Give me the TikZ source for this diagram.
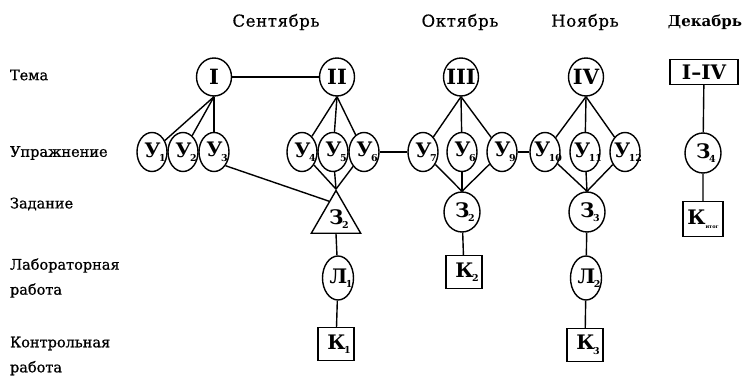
\documentclass[tikz,border=0pt]{standalone}
\usepackage{fontspec}
\setmainfont{DejaVu Serif}
\newfontfamily\captionfont[FakeBold=0.9]{DejaVu Serif}
\newfontfamily\monthfont[FakeBold=0.6,LetterSpace=4]{DejaVu Serif}
\usetikzlibrary{shapes.geometric,calc}
% node letter with its index set low on the right
\newcommand\lbl[2]{\makebox[0pt][c]{\kern6pt #1\kern-1.5pt\raisebox{-4.5pt}{\fontsize{9.5}{9.5}\selectfont #2}}}
% node text that does not widen its shape
\newcommand\cc[1]{\makebox[0pt][c]{#1}}
\begin{document}
\begin{tikzpicture}[x=1pt,y=-1pt,line width=1.4pt,
  month/.style={font=\monthfont\fontsize{16.5}{16.5}\selectfont},
  rowlabel/.style={anchor=west,align=left,font=\captionfont\fontsize{14.5}{25}\selectfont},
  nodefont/.style={font=\bfseries\fontsize{20}{20}\selectfont},
  theme/.style={draw,ellipse,inner sep=0pt,minimum width=35pt,minimum height=38pt,
    font=\bfseries\fontsize{21}{21}\selectfont},
  ex/.style={draw,ellipse,inner sep=0pt,minimum width=30pt,minimum height=39pt,nodefont},
  task/.style={draw,ellipse,inner sep=0pt,minimum width=36pt,minimum height=40pt,nodefont},
  lab/.style={draw,ellipse,inner sep=0pt,minimum width=31pt,minimum height=44pt,nodefont},
  test/.style={draw,rectangle,inner sep=0pt,minimum width=36pt,minimum height=33pt,nodefont},
  tri/.style={draw,regular polygon,regular polygon sides=3,inner sep=0pt,minimum size=57pt,nodefont}]
\useasboundingbox (0,0) rectangle (750,379);

% months
\node[month] (sep) at (276,22) {Сентябрь};
\node[month] (oct) at (460,22) {Октябрь};
\node[month] (nov) at (585,22) {Ноябрь};
\node[font=\bfseries\fontsize{15}{15}\selectfont] (dec) at (705,22) {Декабрь};

% row captions
\node[rowlabel] (rTheme) at (6,75) {Тема};
\node[rowlabel] (rEx) at (6,153) {Упражнение};
\node[rowlabel] (rTask) at (6,204) {Задание};
\node[rowlabel] (rLab) at (6,278) {Лабораторная\\работа};
\node[rowlabel] (rTest) at (6,356) {Контрольная\\работа};

% themes
\node[theme] (t1) at (214,77) {\cc{I}};
\node[theme] (t2) at (337,77) {\cc{II}};
\node[theme] (t3) at (461,77) {\cc{III}};
\node[theme] (t4) at (586,77) {\cc{IV}};
\node[draw,rectangle,inner sep=0pt,minimum width=68pt,minimum height=25pt,
  font=\bfseries\fontsize{20}{20}\selectfont] (t14) at (704,72) {\cc{I–IV}};

% exercises
\node[ex] (u1) at (152,152) {\lbl{У}{1}};
\node[ex] (u2) at (183,152) {\lbl{У}{2}};
\node[ex] (u3) at (214,152) {\lbl{У}{3}};
\node[ex] (u4) at (302,152) {\lbl{У}{4}};
\node[ex] (u5) at (333,152) {\lbl{У}{5}};
\node[ex] (u6) at (364,152) {\lbl{У}{6}};
\node[ex] (u7) at (423,152) {\lbl{У}{7}};
\node[ex] (u8) at (462,152) {\lbl{У}{6}};
\node[ex] (u9) at (502,152) {\lbl{У}{9}};
\node[ex] (u10) at (545,152) {\lbl{У}{10}};
\node[ex] (u11) at (585,152) {\lbl{У}{11}};
\node[ex] (u12) at (625,152) {\lbl{У}{12}};
\node[task] (z4) at (703,153) {\lbl{З}{4}};

% tasks
\node[tri] (zs) at (336,219) {\raisebox{3pt}{\lbl{З}{2}}};
\node[task] (zo) at (462,212) {\lbl{З}{2}};
\node[task] (zn) at (587,212) {\lbl{З}{3}};
\node[test,minimum width=40pt,minimum height=35pt] (kit) at (703,219)
  {\makebox[0pt][c]{К\raisebox{-4pt}{\fontsize{5}{5}\selectfont итог}}};

% laboratory works
\node[lab] (l1) at (338,278) {\lbl{Л}{1}};
\node[lab] (l2) at (586,278) {\lbl{Л}{2}};

% tests
\node[test] (k1) at (336,344) {\lbl{К}{1}};
\node[test] (k2) at (464,272) {\lbl{К}{2}};
\node[test] (k3) at (585,345) {\lbl{К}{3}};

% connections
\draw (t1) -- (t2);
\draw (u6) -- (u7);
\draw (u9) -- (u10);
\foreach \u in {u1,u2,u3} \draw (t1.south) -- (\u);
\foreach \u in {u4,u5,u6} \draw (t2.south) -- (\u);
\foreach \u in {u7,u8,u9} \draw (t3.south) -- (\u);
\foreach \u in {u10,u11,u12} \draw (t4.south) -- (\u);
\draw (u3.-50) -- ($(zs.corner 1)!0.27!(zs.corner 2)$);
\foreach \u in {u4,u5,u6} \draw (\u) -- (zs.corner 1);
\foreach \u in {u7,u8,u9} \draw (\u) -- (zo.north);
\foreach \u in {u10,u11,u12} \draw (\u) -- (zn.north);
\draw (zs.south) -- (l1) -- (k1);
\draw (zo) -- (k2);
\draw (zn) -- (l2) -- (k3);
\draw (t14) -- (z4) -- (kit);
\end{tikzpicture}
\end{document}
